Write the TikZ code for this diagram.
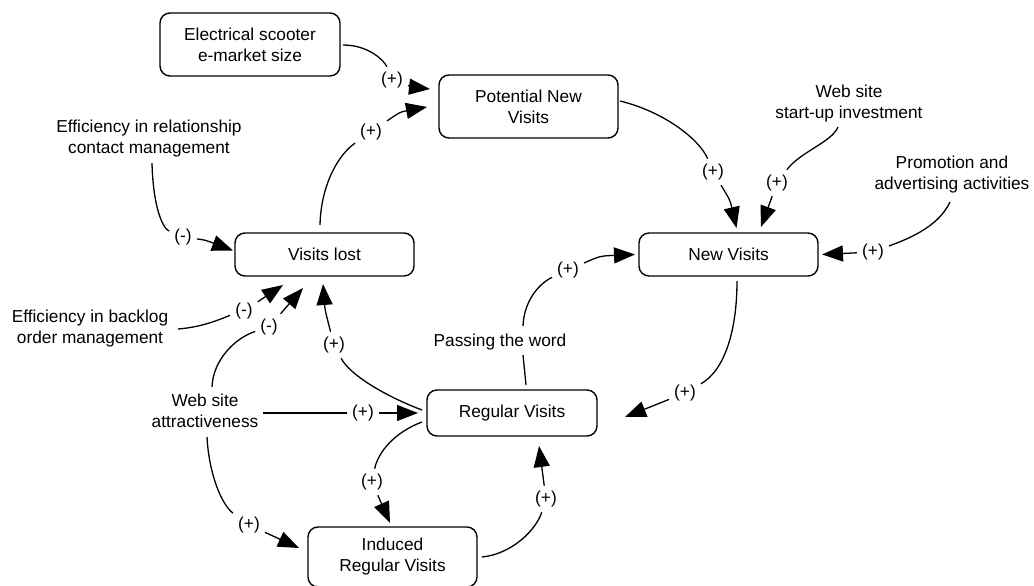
\documentclass[tikz,border=0pt]{standalone}
\usepackage{fontspec}
\setmainfont{Liberation Sans}
\usetikzlibrary{arrows.meta,calc}

\tikzset{
  txt/.style={font=\fontsize{17.3}{21}\selectfont, align=center, inner sep=0pt},
  box/.style={txt, draw, line width=1.4pt, rounded corners=10pt},
  sign/.style={font=\fontsize{17.3}{21}\selectfont, inner sep=5pt},
  conn/.style={line width=1.3pt},
  arr/.style={conn, -{Triangle[length=21pt,width=16pt]}}
}

\begin{document}
\begin{tikzpicture}[x=1pt,y=-1pt]
\useasboundingbox (0,0) rectangle (1034,586);

% stocks and variables
\node[box, minimum width=180, minimum height=63] (es)  at (250,44.5)  {Electrical scooter\\e-market size};
\node[box, minimum width=179, minimum height=63] (pnv) at (528.5,106.5) {Potential New\\Visits};
\node[box, minimum width=179, minimum height=43] (nv)  at (728.5,254.5) {New Visits};
\node[box, minimum width=179, minimum height=43] (vl)  at (324.5,254.5) {Visits lost};
\node[box, minimum width=170, minimum height=46] (rv)  at (512,413)   {Regular Visits};
\node[box, minimum width=169, minimum height=60] (irv) at (392.5,557) {Induced\\Regular Visits};

% external factors
\node[txt] (erc) at (149,139) {Efficiency in relationship\\contact management};
\node[txt] (ebo) at (90,329)  {Efficiency in backlog\\order management};
\node[txt] (wsa) at (205,411) {Web site\\attractiveness};
\node[txt] (wss) at (849,104) {Web site\\start-up investment};
\node[txt] (pa)  at (952,175) {Promotion and\\advertising activities};
\node[txt] (pw)  at (500,342) {Passing the word};

% polarity signs
\node[sign] (l1)  at (392,80)  {(+)};
\node[sign] (l2)  at (371,132) {(+)};
\node[sign] (l3)  at (183,237) {(-)};
\node[sign] (l4)  at (244,311) {(-)};
\node[sign] (l5)  at (269,327) {(-)};
\node[sign] (l6)  at (334,345) {(+)};
\node[sign] (l7)  at (363,413) {(+)};
\node[sign] (l8)  at (249,525) {(+)};
\node[sign] (l9)  at (372,482) {(+)};
\node[sign] (l10) at (546,499) {(+)};
\node[sign] (l11) at (685,393) {(+)};
\node[sign] (l12) at (568,270) {(+)};
\node[sign] (l13) at (713,172) {(+)};
\node[sign] (l14) at (777,183) {(+)};
\node[sign] (l15) at (873,252) {(+)};

% market size -> potential new visits
\draw[conn] ($(es)+(93,0.5)$) .. controls (370,45) and (385,62) .. (l1);
\draw[arr] (l1) .. controls (412,87) .. ($(pnv)+(-98.5,-17.5)$);

% visits lost -> potential new visits
\draw[conn] ($(vl)+(-4.5,-29.5)$) .. controls (321,185) and (338,155) .. (l2);
\draw[arr] (l2) .. controls (400,112) .. ($(pnv)+(-101.5,0.5)$);

% relationship management -> visits lost
\draw[conn] ($(erc)+(3,24)$) .. controls (153,205) and (162,228) .. (l3);
\draw[arr] (l3) .. controls (205,240) .. ($(vl)+(-91.5,-4)$);

% backlog management -> visits lost
\draw[conn] ($(ebo)+(88,0)$) .. controls (205,327) and (225,317) .. (l4);
\draw[arr] (l4) -- ($(vl)+(-41.5,30.5)$);

% attractiveness -> visits lost
\draw[conn] ($(wsa)+(7,-24)$) .. controls (213,360) and (235,338) .. (l5);
\draw[arr] (l5) -- ($(vl)+(-21.5,33.5)$);

% regular visits -> visits lost
\draw[conn] ($(rv)+(-90,-3)$) .. controls (385,396) and (350,375) .. (l6);
\draw[arr] (l6) .. controls (325,310) .. ($(vl)+(-1.5,29.5)$);

% attractiveness -> regular visits
\draw[conn] ($(wsa)+(58,2)$) -- (l7);
\draw[arr] (l7) -- ($(rv)+(-94,0)$);

% attractiveness -> induced regular visits
\draw[conn] ($(wsa)+(2,26)$) .. controls (209,475) and (222,505) .. (l8);
\draw[arr] (l8) -- ($(irv)+(-93.5,-9)$);

% regular visits -> induced regular visits
\draw[conn] ($(rv)+(-90,9)$) .. controls (395,432) and (378,452) .. (l9);
\draw[arr] (l9) -- ($(irv)+(-2.5,-34)$);

% induced regular visits -> regular visits
\draw[conn] ($(irv)+(89.5,0)$) .. controls (512,554) and (536,530) .. (l10);
\draw[arr] (l10) -- ($(rv)+(27,33)$);

% new visits -> regular visits
\draw[conn] ($(nv)+(8.5,26.5)$) .. controls (737,330) and (725,370) .. (l11);
\draw[arr] (l11) -- ($(rv)+(113,4)$);

% regular visits -> new visits (passing the word)
\draw[conn] ($(rv)+(14,-28)$) -- ($(pw)+(23,13)$);
\draw[conn] ($(pw)+(23,-16)$) .. controls (524,300) and (540,283) .. (l12);
\draw[arr] (l12) .. controls (600,256) .. ($(nv)+(-93.5,0)$);

% potential new visits -> new visits
\draw[conn] ($(pnv)+(91.5,-5.5)$) .. controls (665,112) and (700,140) .. (l13);
\draw[arr] (l13) .. controls (730,200) .. ($(nv)+(8,-26.5)$);

% start-up investment -> new visits
\draw[conn] ($(wss)+(-11,23)$) .. controls (832,142) and (800,152) .. (l14);
\draw[arr] (l14) -- ($(nv)+(32.5,-27.5)$);

% promotion -> new visits
\draw[conn] ($(pa)+(-2,27)$) .. controls (938,228) and (905,240) .. (l15);
\draw[arr] (l15) -- ($(nv)+(93.5,0)$);
\end{tikzpicture}
\end{document}
